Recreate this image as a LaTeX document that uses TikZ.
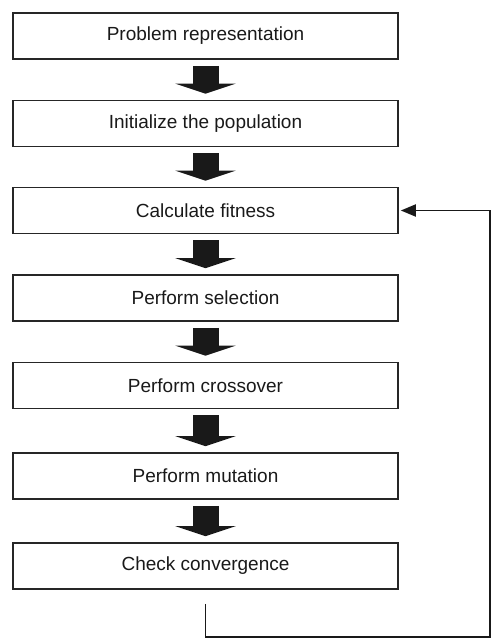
\documentclass[tikz,border=0pt]{standalone}
\usepackage{fontspec}
\setmainfont{Liberation Sans}
\usetikzlibrary{arrows.meta}

\tikzset{
  stepbox/.style={draw=black!85, line width=1.6pt, minimum width=385pt,
    minimum height=46pt, inner sep=0pt, text=black!90,
    font=\fontsize{19}{22}\selectfont},
  blockarrow/.style={draw=black!90, line width=26pt,
    -{Triangle[width=60pt,length=10pt]}, shorten <=6pt, shorten >=6pt},
  loopline/.style={draw=black!90, line width=1.8pt}
}

\begin{document}
\begin{tikzpicture}[x=1pt,y=-1pt]
  \useasboundingbox (0,0) rectangle (490,639);

  % the steps of the genetic algorithm
  \node[stepbox] (rep)  at (205.5, 36)   {Problem representation};
  \node[stepbox] (init) at (205.5, 123.5) {Initialize the population};
  \node[stepbox] (fit)  at (205.5, 210.5) {Calculate fitness};
  \node[stepbox] (sel)  at (205.5, 298)   {Perform selection};
  \node[stepbox] (cx)   at (205.5, 385.5) {Perform crossover};
  \node[stepbox] (mut)  at (205.5, 476)   {Perform mutation};
  \node[stepbox] (conv) at (205.5, 566)   {Check convergence};

  % block arrows between consecutive steps
  \draw[blockarrow] (rep.south)  -- (init.north);
  \draw[blockarrow] (init.south) -- (fit.north);
  \draw[blockarrow] (fit.south)  -- (sel.north);
  \draw[blockarrow] (sel.south)  -- (cx.north);
  \draw[blockarrow] (cx.south)   -- (mut.north);
  \draw[blockarrow] (mut.south)  -- (conv.north);

  % feedback loop back to the fitness evaluation
  \coordinate (loopstart) at ([yshift=-14pt]conv.south);
  \coordinate (loopcorner) at (490,637);
  \draw[loopline, -{Triangle[width=12pt,length=15pt]}]
    (loopstart) -- (loopstart |- loopcorner) -- (loopcorner)
    -- (loopcorner |- fit.east) -- ([xshift=2pt]fit.east);
\end{tikzpicture}
\end{document}
